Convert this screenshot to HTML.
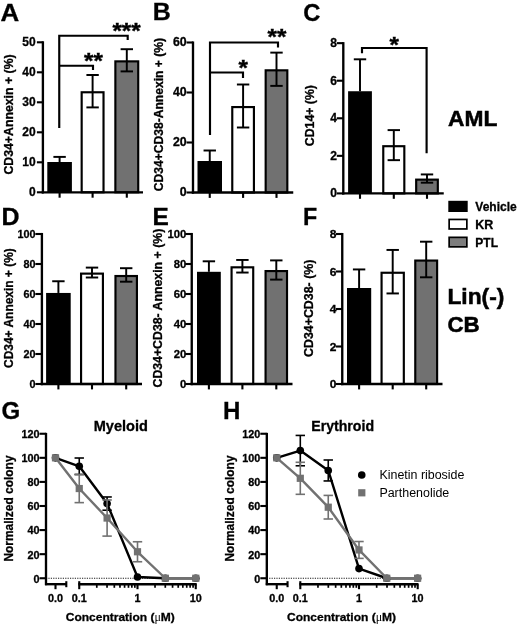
<!DOCTYPE html>
<html><head><meta charset="utf-8"><title>Figure</title>
<style>
html,body{margin:0;padding:0;background:#fff;}
svg{display:block;}
svg text{font-family:'Liberation Sans', sans-serif;fill:#000;}
</style></head>
<body>
<svg width="520" height="625" viewBox="0 0 520 625">
<rect width="520" height="625" fill="#fff"/>
<line x1="59.60" y1="156.90" x2="59.60" y2="162.00" stroke="#000" stroke-width="1.95"/>
<line x1="53.40" y1="156.90" x2="65.80" y2="156.90" stroke="#000" stroke-width="1.95"/>
<rect x="47.30" y="162.00" width="24.60" height="30.30" fill="#000"/>
<line x1="59.60" y1="192.30" x2="59.60" y2="197.70" stroke="#000" stroke-width="2.1"/>
<rect x="81.67" y="92.27" width="21.85" height="100.03" fill="#fff" stroke="#000" stroke-width="2.15"/>
<line x1="92.60" y1="75.00" x2="92.60" y2="107.40" stroke="#000" stroke-width="1.95"/>
<line x1="86.40" y1="75.00" x2="98.80" y2="75.00" stroke="#000" stroke-width="1.95"/>
<line x1="86.40" y1="107.40" x2="98.80" y2="107.40" stroke="#000" stroke-width="1.95"/>
<line x1="92.60" y1="192.30" x2="92.60" y2="197.70" stroke="#000" stroke-width="2.1"/>
<rect x="115.37" y="61.37" width="22.85" height="130.93" fill="#717171" stroke="#000" stroke-width="2.15"/>
<line x1="126.80" y1="49.20" x2="126.80" y2="71.40" stroke="#000" stroke-width="1.95"/>
<line x1="120.60" y1="49.20" x2="133.00" y2="49.20" stroke="#000" stroke-width="1.95"/>
<line x1="120.60" y1="71.40" x2="133.00" y2="71.40" stroke="#000" stroke-width="1.95"/>
<line x1="126.80" y1="192.30" x2="126.80" y2="197.70" stroke="#000" stroke-width="2.1"/>
<line x1="42.90" y1="41.25" x2="42.90" y2="193.48" stroke="#000" stroke-width="2.35"/>
<line x1="41.73" y1="192.30" x2="143.00" y2="192.30" stroke="#000" stroke-width="2.35"/>
<line x1="36.90" y1="192.30" x2="42.90" y2="192.30" stroke="#000" stroke-width="2.1"/>
<text transform="translate(35.60,196.05) scale(0.97,1)" font-size="12.4" font-weight="bold" text-anchor="end"  stroke="#000" stroke-width="0.3">0</text>
<line x1="36.90" y1="162.30" x2="42.90" y2="162.30" stroke="#000" stroke-width="2.1"/>
<text transform="translate(35.60,166.05) scale(0.97,1)" font-size="12.4" font-weight="bold" text-anchor="end"  stroke="#000" stroke-width="0.3">10</text>
<line x1="36.90" y1="132.30" x2="42.90" y2="132.30" stroke="#000" stroke-width="2.1"/>
<text transform="translate(35.60,136.05) scale(0.97,1)" font-size="12.4" font-weight="bold" text-anchor="end"  stroke="#000" stroke-width="0.3">20</text>
<line x1="36.90" y1="102.30" x2="42.90" y2="102.30" stroke="#000" stroke-width="2.1"/>
<text transform="translate(35.60,106.05) scale(0.97,1)" font-size="12.4" font-weight="bold" text-anchor="end"  stroke="#000" stroke-width="0.3">30</text>
<line x1="36.90" y1="72.30" x2="42.90" y2="72.30" stroke="#000" stroke-width="2.1"/>
<text transform="translate(35.60,76.05) scale(0.97,1)" font-size="12.4" font-weight="bold" text-anchor="end"  stroke="#000" stroke-width="0.3">40</text>
<line x1="36.90" y1="42.30" x2="42.90" y2="42.30" stroke="#000" stroke-width="2.1"/>
<text transform="translate(35.60,46.05) scale(0.97,1)" font-size="12.4" font-weight="bold" text-anchor="end"  stroke="#000" stroke-width="0.3">50</text>
<text transform="translate(13.20,174.60) rotate(-90) scale(1.0,1)" font-size="12.3" font-weight="bold" text-anchor="start"  stroke="#000" stroke-width="0.3">CD34+Annexin + (%)</text>
<text transform="translate(0.60,21.00) scale(1.08,1)" font-size="24" font-weight="bold" text-anchor="start"  stroke="#000" stroke-width="0.3">A</text>
<polyline fill="none" stroke="#000" stroke-width="2.15" points="59.25,128.00 59.25,35.75 127.70,35.75 127.70,40.00"/>
<polyline fill="none" stroke="#000" stroke-width="2.15" points="59.25,65.75 59.25,65.75 93.00,65.75 93.00,70.00"/>
<text transform="translate(126.50,38.00) scale(1.1,1)" font-size="22" font-weight="bold" text-anchor="middle"  stroke="#000" stroke-width="0.4">***</text>
<text transform="translate(93.50,68.00) scale(1.1,1)" font-size="22" font-weight="bold" text-anchor="middle"  stroke="#000" stroke-width="0.4">**</text>
<line x1="209.75" y1="150.50" x2="209.75" y2="161.00" stroke="#000" stroke-width="1.95"/>
<line x1="203.55" y1="150.50" x2="215.95" y2="150.50" stroke="#000" stroke-width="1.95"/>
<rect x="197.50" y="161.00" width="24.50" height="31.50" fill="#000"/>
<line x1="209.75" y1="192.50" x2="209.75" y2="197.90" stroke="#000" stroke-width="2.1"/>
<rect x="232.27" y="107.07" width="21.65" height="85.43" fill="#fff" stroke="#000" stroke-width="2.15"/>
<line x1="243.10" y1="84.50" x2="243.10" y2="127.50" stroke="#000" stroke-width="1.95"/>
<line x1="236.90" y1="84.50" x2="249.30" y2="84.50" stroke="#000" stroke-width="1.95"/>
<line x1="236.90" y1="127.50" x2="249.30" y2="127.50" stroke="#000" stroke-width="1.95"/>
<line x1="243.10" y1="192.50" x2="243.10" y2="197.90" stroke="#000" stroke-width="2.1"/>
<rect x="265.67" y="70.32" width="21.65" height="122.18" fill="#717171" stroke="#000" stroke-width="2.15"/>
<line x1="276.50" y1="52.62" x2="276.50" y2="85.88" stroke="#000" stroke-width="1.95"/>
<line x1="270.30" y1="52.62" x2="282.70" y2="52.62" stroke="#000" stroke-width="1.95"/>
<line x1="270.30" y1="85.88" x2="282.70" y2="85.88" stroke="#000" stroke-width="1.95"/>
<line x1="276.50" y1="192.50" x2="276.50" y2="197.90" stroke="#000" stroke-width="2.1"/>
<line x1="193.00" y1="41.45" x2="193.00" y2="193.68" stroke="#000" stroke-width="2.35"/>
<line x1="191.82" y1="192.50" x2="293.25" y2="192.50" stroke="#000" stroke-width="2.35"/>
<line x1="186.50" y1="192.50" x2="193.00" y2="192.50" stroke="#000" stroke-width="2.1"/>
<text transform="translate(186.70,196.10) scale(1.01,1)" font-size="12.2" font-weight="bold" text-anchor="end"  stroke="#000" stroke-width="0.3">0</text>
<line x1="186.50" y1="142.50" x2="193.00" y2="142.50" stroke="#000" stroke-width="2.1"/>
<text transform="translate(186.70,146.10) scale(1.01,1)" font-size="12.2" font-weight="bold" text-anchor="end"  stroke="#000" stroke-width="0.3">20</text>
<line x1="186.50" y1="92.50" x2="193.00" y2="92.50" stroke="#000" stroke-width="2.1"/>
<text transform="translate(186.70,96.10) scale(1.01,1)" font-size="12.2" font-weight="bold" text-anchor="end"  stroke="#000" stroke-width="0.3">40</text>
<line x1="186.50" y1="42.50" x2="193.00" y2="42.50" stroke="#000" stroke-width="2.1"/>
<text transform="translate(186.70,46.10) scale(1.01,1)" font-size="12.2" font-weight="bold" text-anchor="end"  stroke="#000" stroke-width="0.3">60</text>
<text transform="translate(163.40,191.25) rotate(-90) scale(1.0,1)" font-size="12.1" font-weight="bold" text-anchor="start"  stroke="#000" stroke-width="0.3">CD34+CD38-Annexin + (%)</text>
<text transform="translate(152.80,20.30) scale(1.04,1)" font-size="24" font-weight="bold" text-anchor="start"  stroke="#000" stroke-width="0.3">B</text>
<polyline fill="none" stroke="#000" stroke-width="2.15" points="210.00,135.00 210.00,42.50 278.00,42.50 278.00,47.50"/>
<polyline fill="none" stroke="#000" stroke-width="2.15" points="210.00,72.50 210.00,72.50 243.00,72.50 243.00,78.00"/>
<text transform="translate(277.00,44.00) scale(1.1,1)" font-size="22" font-weight="bold" text-anchor="middle"  stroke="#000" stroke-width="0.4">**</text>
<text transform="translate(243.20,74.80) scale(1.1,1)" font-size="22" font-weight="bold" text-anchor="middle"  stroke="#000" stroke-width="0.4">*</text>
<line x1="360.00" y1="59.31" x2="360.00" y2="91.24" stroke="#000" stroke-width="1.95"/>
<line x1="353.80" y1="59.31" x2="366.20" y2="59.31" stroke="#000" stroke-width="1.95"/>
<rect x="348.10" y="91.24" width="23.80" height="102.16" fill="#000"/>
<line x1="360.00" y1="193.40" x2="360.00" y2="198.80" stroke="#000" stroke-width="2.1"/>
<rect x="383.27" y="146.21" width="21.05" height="47.19" fill="#fff" stroke="#000" stroke-width="2.15"/>
<line x1="393.80" y1="130.11" x2="393.80" y2="160.16" stroke="#000" stroke-width="1.95"/>
<line x1="387.60" y1="130.11" x2="400.00" y2="130.11" stroke="#000" stroke-width="1.95"/>
<line x1="387.60" y1="160.16" x2="400.00" y2="160.16" stroke="#000" stroke-width="1.95"/>
<line x1="393.80" y1="193.40" x2="393.80" y2="198.80" stroke="#000" stroke-width="2.1"/>
<rect x="416.17" y="179.63" width="21.65" height="13.77" fill="#717171" stroke="#000" stroke-width="2.15"/>
<line x1="427.00" y1="174.43" x2="427.00" y2="182.70" stroke="#000" stroke-width="1.95"/>
<line x1="420.80" y1="174.43" x2="433.20" y2="174.43" stroke="#000" stroke-width="1.95"/>
<line x1="420.80" y1="182.70" x2="433.20" y2="182.70" stroke="#000" stroke-width="1.95"/>
<line x1="427.00" y1="193.40" x2="427.00" y2="198.80" stroke="#000" stroke-width="2.1"/>
<line x1="343.30" y1="42.11" x2="343.30" y2="194.58" stroke="#000" stroke-width="2.35"/>
<line x1="342.12" y1="193.40" x2="443.75" y2="193.40" stroke="#000" stroke-width="2.35"/>
<line x1="336.80" y1="193.40" x2="343.30" y2="193.40" stroke="#000" stroke-width="2.1"/>
<text transform="translate(336.90,197.40) scale(0.98,1)" font-size="12.3" font-weight="bold" text-anchor="end"  stroke="#000" stroke-width="0.3">0</text>
<line x1="336.80" y1="155.84" x2="343.30" y2="155.84" stroke="#000" stroke-width="2.1"/>
<text transform="translate(336.90,159.84) scale(0.98,1)" font-size="12.3" font-weight="bold" text-anchor="end"  stroke="#000" stroke-width="0.3">2</text>
<line x1="336.80" y1="118.28" x2="343.30" y2="118.28" stroke="#000" stroke-width="2.1"/>
<text transform="translate(336.90,122.28) scale(0.98,1)" font-size="12.3" font-weight="bold" text-anchor="end"  stroke="#000" stroke-width="0.3">4</text>
<line x1="336.80" y1="80.72" x2="343.30" y2="80.72" stroke="#000" stroke-width="2.1"/>
<text transform="translate(336.90,84.72) scale(0.98,1)" font-size="12.3" font-weight="bold" text-anchor="end"  stroke="#000" stroke-width="0.3">6</text>
<line x1="336.80" y1="43.16" x2="343.30" y2="43.16" stroke="#000" stroke-width="2.1"/>
<text transform="translate(336.90,47.16) scale(0.98,1)" font-size="12.3" font-weight="bold" text-anchor="end"  stroke="#000" stroke-width="0.3">8</text>
<text transform="translate(313.60,146.20) rotate(-90) scale(1.0,1)" font-size="12.3" font-weight="bold" text-anchor="start"  stroke="#000" stroke-width="0.3">CD14+ (%)</text>
<text transform="translate(303.20,20.60) scale(0.99,1)" font-size="24" font-weight="bold" text-anchor="start"  stroke="#000" stroke-width="0.3">C</text>
<polyline fill="none" stroke="#000" stroke-width="2.15" points="362.00,53.25 362.00,48.00 426.60,48.00 426.60,153.20"/>
<text transform="translate(394.10,51.80) scale(1.1,1)" font-size="22" font-weight="bold" text-anchor="middle"  stroke="#000" stroke-width="0.4">*</text>
<text transform="translate(448.00,125.70) scale(1.06,1)" font-size="21.5" font-weight="bold" text-anchor="start"  stroke="#000" stroke-width="0.5">AML</text>
<rect x="448.3" y="200.8" width="19.4" height="11.2" fill="#000"/>
<rect x="449.15" y="219.45" width="17.7" height="9.5" fill="#fff" stroke="#000" stroke-width="1.7"/>
<rect x="449.15" y="237.35" width="17.7" height="9.5" fill="#7d7d7d" stroke="#000" stroke-width="1.7"/>
<text transform="translate(475.30,210.90) scale(1.0,1)" font-size="12" font-weight="bold" text-anchor="start"  stroke="#000" stroke-width="0.3">Vehicle</text>
<text transform="translate(475.30,229.00) scale(1.04,1)" font-size="12" font-weight="bold" text-anchor="start"  stroke="#000" stroke-width="0.3">KR</text>
<text transform="translate(475.30,246.80) scale(1.0,1)" font-size="12" font-weight="bold" text-anchor="start"  stroke="#000" stroke-width="0.3">PTL</text>
<line x1="58.40" y1="281.25" x2="58.40" y2="292.95" stroke="#000" stroke-width="1.95"/>
<line x1="52.20" y1="281.25" x2="64.60" y2="281.25" stroke="#000" stroke-width="1.95"/>
<rect x="46.10" y="292.95" width="24.60" height="91.05" fill="#000"/>
<line x1="58.40" y1="384.00" x2="58.40" y2="389.40" stroke="#000" stroke-width="2.1"/>
<rect x="81.07" y="273.62" width="21.85" height="110.38" fill="#fff" stroke="#000" stroke-width="2.15"/>
<line x1="92.00" y1="267.60" x2="92.00" y2="277.50" stroke="#000" stroke-width="1.95"/>
<line x1="85.80" y1="267.60" x2="98.20" y2="267.60" stroke="#000" stroke-width="1.95"/>
<line x1="85.80" y1="277.50" x2="98.20" y2="277.50" stroke="#000" stroke-width="1.95"/>
<line x1="92.00" y1="384.00" x2="92.00" y2="389.40" stroke="#000" stroke-width="2.1"/>
<rect x="115.47" y="276.02" width="21.45" height="107.98" fill="#717171" stroke="#000" stroke-width="2.15"/>
<line x1="126.20" y1="268.20" x2="126.20" y2="281.70" stroke="#000" stroke-width="1.95"/>
<line x1="120.00" y1="268.20" x2="132.40" y2="268.20" stroke="#000" stroke-width="1.95"/>
<line x1="120.00" y1="281.70" x2="132.40" y2="281.70" stroke="#000" stroke-width="1.95"/>
<line x1="126.20" y1="384.00" x2="126.20" y2="389.40" stroke="#000" stroke-width="2.1"/>
<line x1="41.90" y1="232.95" x2="41.90" y2="385.18" stroke="#000" stroke-width="2.35"/>
<line x1="40.73" y1="384.00" x2="142.00" y2="384.00" stroke="#000" stroke-width="2.35"/>
<line x1="35.40" y1="384.00" x2="41.90" y2="384.00" stroke="#000" stroke-width="2.1"/>
<text transform="translate(35.60,388.05) scale(1.0,1)" font-size="10.8" font-weight="bold" text-anchor="end"  stroke="#000" stroke-width="0.3">0</text>
<line x1="35.40" y1="354.00" x2="41.90" y2="354.00" stroke="#000" stroke-width="2.1"/>
<text transform="translate(35.60,358.05) scale(1.0,1)" font-size="10.8" font-weight="bold" text-anchor="end"  stroke="#000" stroke-width="0.3">20</text>
<line x1="35.40" y1="324.00" x2="41.90" y2="324.00" stroke="#000" stroke-width="2.1"/>
<text transform="translate(35.60,328.05) scale(1.0,1)" font-size="10.8" font-weight="bold" text-anchor="end"  stroke="#000" stroke-width="0.3">40</text>
<line x1="35.40" y1="294.00" x2="41.90" y2="294.00" stroke="#000" stroke-width="2.1"/>
<text transform="translate(35.60,298.05) scale(1.0,1)" font-size="10.8" font-weight="bold" text-anchor="end"  stroke="#000" stroke-width="0.3">60</text>
<line x1="35.40" y1="264.00" x2="41.90" y2="264.00" stroke="#000" stroke-width="2.1"/>
<text transform="translate(35.60,268.05) scale(1.0,1)" font-size="10.8" font-weight="bold" text-anchor="end"  stroke="#000" stroke-width="0.3">80</text>
<line x1="35.40" y1="234.00" x2="41.90" y2="234.00" stroke="#000" stroke-width="2.1"/>
<text transform="translate(35.60,238.05) scale(1.0,1)" font-size="10.8" font-weight="bold" text-anchor="end"  stroke="#000" stroke-width="0.3">100</text>
<text transform="translate(12.90,367.90) rotate(-90) scale(1.0,1)" font-size="11.95" font-weight="bold" text-anchor="start"  stroke="#000" stroke-width="0.3">CD34+ Annexin + (%)</text>
<text transform="translate(1.40,224.60) scale(1.04,1)" font-size="24" font-weight="bold" text-anchor="start"  stroke="#000" stroke-width="0.3">D</text>
<line x1="208.90" y1="261.30" x2="208.90" y2="271.80" stroke="#000" stroke-width="1.95"/>
<line x1="202.70" y1="261.30" x2="215.10" y2="261.30" stroke="#000" stroke-width="1.95"/>
<rect x="197.00" y="271.80" width="23.80" height="112.20" fill="#000"/>
<line x1="208.90" y1="384.00" x2="208.90" y2="389.40" stroke="#000" stroke-width="2.1"/>
<rect x="231.57" y="267.32" width="21.65" height="116.68" fill="#fff" stroke="#000" stroke-width="2.15"/>
<line x1="242.40" y1="259.95" x2="242.40" y2="272.55" stroke="#000" stroke-width="1.95"/>
<line x1="236.20" y1="259.95" x2="248.60" y2="259.95" stroke="#000" stroke-width="1.95"/>
<line x1="236.20" y1="272.55" x2="248.60" y2="272.55" stroke="#000" stroke-width="1.95"/>
<line x1="242.40" y1="384.00" x2="242.40" y2="389.40" stroke="#000" stroke-width="2.1"/>
<rect x="265.57" y="271.07" width="21.45" height="112.93" fill="#717171" stroke="#000" stroke-width="2.15"/>
<line x1="276.30" y1="260.40" x2="276.30" y2="279.60" stroke="#000" stroke-width="1.95"/>
<line x1="270.10" y1="260.40" x2="282.50" y2="260.40" stroke="#000" stroke-width="1.95"/>
<line x1="270.10" y1="279.60" x2="282.50" y2="279.60" stroke="#000" stroke-width="1.95"/>
<line x1="276.30" y1="384.00" x2="276.30" y2="389.40" stroke="#000" stroke-width="2.1"/>
<line x1="191.75" y1="232.95" x2="191.75" y2="385.18" stroke="#000" stroke-width="2.35"/>
<line x1="190.57" y1="384.00" x2="292.50" y2="384.00" stroke="#000" stroke-width="2.35"/>
<line x1="185.25" y1="384.00" x2="191.75" y2="384.00" stroke="#000" stroke-width="2.1"/>
<text transform="translate(186.30,388.05) scale(1.0,1)" font-size="11.3" font-weight="bold" text-anchor="end"  stroke="#000" stroke-width="0.3">0</text>
<line x1="185.25" y1="354.00" x2="191.75" y2="354.00" stroke="#000" stroke-width="2.1"/>
<text transform="translate(186.30,358.05) scale(1.0,1)" font-size="11.3" font-weight="bold" text-anchor="end"  stroke="#000" stroke-width="0.3">20</text>
<line x1="185.25" y1="324.00" x2="191.75" y2="324.00" stroke="#000" stroke-width="2.1"/>
<text transform="translate(186.30,328.05) scale(1.0,1)" font-size="11.3" font-weight="bold" text-anchor="end"  stroke="#000" stroke-width="0.3">40</text>
<line x1="185.25" y1="294.00" x2="191.75" y2="294.00" stroke="#000" stroke-width="2.1"/>
<text transform="translate(186.30,298.05) scale(1.0,1)" font-size="11.3" font-weight="bold" text-anchor="end"  stroke="#000" stroke-width="0.3">60</text>
<line x1="185.25" y1="264.00" x2="191.75" y2="264.00" stroke="#000" stroke-width="2.1"/>
<text transform="translate(186.30,268.05) scale(1.0,1)" font-size="11.3" font-weight="bold" text-anchor="end"  stroke="#000" stroke-width="0.3">80</text>
<line x1="185.25" y1="234.00" x2="191.75" y2="234.00" stroke="#000" stroke-width="2.1"/>
<text transform="translate(186.30,238.05) scale(1.0,1)" font-size="11.3" font-weight="bold" text-anchor="end"  stroke="#000" stroke-width="0.3">100</text>
<text transform="translate(162.20,387.50) rotate(-90) scale(1.0,1)" font-size="12.3" font-weight="bold" text-anchor="start"  stroke="#000" stroke-width="0.3">CD34+CD38- Annexin + (%)</text>
<text transform="translate(152.60,224.70) scale(1.02,1)" font-size="24" font-weight="bold" text-anchor="start"  stroke="#000" stroke-width="0.3">E</text>
<line x1="359.10" y1="269.44" x2="359.10" y2="288.00" stroke="#000" stroke-width="1.95"/>
<line x1="352.90" y1="269.44" x2="365.30" y2="269.44" stroke="#000" stroke-width="1.95"/>
<rect x="347.00" y="288.00" width="24.20" height="96.00" fill="#000"/>
<line x1="359.10" y1="384.00" x2="359.10" y2="389.40" stroke="#000" stroke-width="2.1"/>
<rect x="381.57" y="272.76" width="22.25" height="111.24" fill="#fff" stroke="#000" stroke-width="2.15"/>
<line x1="392.70" y1="249.94" x2="392.70" y2="293.44" stroke="#000" stroke-width="1.95"/>
<line x1="386.50" y1="249.94" x2="398.90" y2="249.94" stroke="#000" stroke-width="1.95"/>
<line x1="386.50" y1="293.44" x2="398.90" y2="293.44" stroke="#000" stroke-width="1.95"/>
<line x1="392.70" y1="384.00" x2="392.70" y2="389.40" stroke="#000" stroke-width="2.1"/>
<rect x="415.27" y="260.57" width="21.85" height="123.43" fill="#717171" stroke="#000" stroke-width="2.15"/>
<line x1="426.20" y1="241.69" x2="426.20" y2="277.31" stroke="#000" stroke-width="1.95"/>
<line x1="420.00" y1="241.69" x2="432.40" y2="241.69" stroke="#000" stroke-width="1.95"/>
<line x1="420.00" y1="277.31" x2="432.40" y2="277.31" stroke="#000" stroke-width="1.95"/>
<line x1="426.20" y1="384.00" x2="426.20" y2="389.40" stroke="#000" stroke-width="2.1"/>
<line x1="342.25" y1="232.95" x2="342.25" y2="385.18" stroke="#000" stroke-width="2.35"/>
<line x1="341.07" y1="384.00" x2="442.50" y2="384.00" stroke="#000" stroke-width="2.35"/>
<line x1="335.75" y1="384.00" x2="342.25" y2="384.00" stroke="#000" stroke-width="2.1"/>
<text transform="translate(336.50,388.05) scale(1.06,1)" font-size="11.3" font-weight="bold" text-anchor="end"  stroke="#000" stroke-width="0.3">0</text>
<line x1="335.75" y1="346.50" x2="342.25" y2="346.50" stroke="#000" stroke-width="2.1"/>
<text transform="translate(336.50,350.55) scale(1.06,1)" font-size="11.3" font-weight="bold" text-anchor="end"  stroke="#000" stroke-width="0.3">2</text>
<line x1="335.75" y1="309.00" x2="342.25" y2="309.00" stroke="#000" stroke-width="2.1"/>
<text transform="translate(336.50,313.05) scale(1.06,1)" font-size="11.3" font-weight="bold" text-anchor="end"  stroke="#000" stroke-width="0.3">4</text>
<line x1="335.75" y1="271.50" x2="342.25" y2="271.50" stroke="#000" stroke-width="2.1"/>
<text transform="translate(336.50,275.55) scale(1.06,1)" font-size="11.3" font-weight="bold" text-anchor="end"  stroke="#000" stroke-width="0.3">6</text>
<line x1="335.75" y1="234.00" x2="342.25" y2="234.00" stroke="#000" stroke-width="2.1"/>
<text transform="translate(336.50,238.05) scale(1.06,1)" font-size="11.3" font-weight="bold" text-anchor="end"  stroke="#000" stroke-width="0.3">8</text>
<text transform="translate(313.30,357.00) rotate(-90) scale(1.0,1)" font-size="12.4" font-weight="bold" text-anchor="start"  stroke="#000" stroke-width="0.3">CD34+CD38- (%)</text>
<text transform="translate(303.00,224.70) scale(0.97,1)" font-size="24" font-weight="bold" text-anchor="start"  stroke="#000" stroke-width="0.3">F</text>
<text transform="translate(447.40,304.10) scale(1.06,1)" font-size="21.5" font-weight="bold" text-anchor="start"  stroke="#000" stroke-width="0.5">Lin(-)</text>
<text transform="translate(447.40,331.50) scale(1.04,1)" font-size="21.5" font-weight="bold" text-anchor="start"  stroke="#000" stroke-width="0.5">CB</text>
<line x1="46.00" y1="578.25" x2="195.80" y2="578.25" stroke="#000" stroke-width="0.9" stroke-dasharray="1.2,1.2"/>
<line x1="46.00" y1="432.85" x2="46.00" y2="585.20" stroke="#000" stroke-width="2.35"/>
<line x1="39.50" y1="578.25" x2="46.00" y2="578.25" stroke="#000" stroke-width="2.1"/>
<text transform="translate(39.40,582.65) scale(1.0,1)" font-size="10.8" font-weight="bold" text-anchor="end"  stroke="#000" stroke-width="0.3">0</text>
<line x1="39.50" y1="554.17" x2="46.00" y2="554.17" stroke="#000" stroke-width="2.1"/>
<text transform="translate(39.40,558.57) scale(1.0,1)" font-size="10.8" font-weight="bold" text-anchor="end"  stroke="#000" stroke-width="0.3">20</text>
<line x1="39.50" y1="530.08" x2="46.00" y2="530.08" stroke="#000" stroke-width="2.1"/>
<text transform="translate(39.40,534.48) scale(1.0,1)" font-size="10.8" font-weight="bold" text-anchor="end"  stroke="#000" stroke-width="0.3">40</text>
<line x1="39.50" y1="506.00" x2="46.00" y2="506.00" stroke="#000" stroke-width="2.1"/>
<text transform="translate(39.40,510.40) scale(1.0,1)" font-size="10.8" font-weight="bold" text-anchor="end"  stroke="#000" stroke-width="0.3">60</text>
<line x1="39.50" y1="481.91" x2="46.00" y2="481.91" stroke="#000" stroke-width="2.1"/>
<text transform="translate(39.40,486.31) scale(1.0,1)" font-size="10.8" font-weight="bold" text-anchor="end"  stroke="#000" stroke-width="0.3">80</text>
<line x1="39.50" y1="457.83" x2="46.00" y2="457.83" stroke="#000" stroke-width="2.1"/>
<text transform="translate(39.40,462.23) scale(1.0,1)" font-size="10.8" font-weight="bold" text-anchor="end"  stroke="#000" stroke-width="0.3">100</text>
<line x1="39.50" y1="433.75" x2="46.00" y2="433.75" stroke="#000" stroke-width="2.1"/>
<text transform="translate(39.40,438.15) scale(1.0,1)" font-size="10.8" font-weight="bold" text-anchor="end"  stroke="#000" stroke-width="0.3">120</text>
<line x1="45.00" y1="584.20" x2="66.30" y2="584.20" stroke="#000" stroke-width="2.35"/>
<line x1="66.30" y1="581.20" x2="66.30" y2="587.20" stroke="#000" stroke-width="2.1"/>
<line x1="55.50" y1="584.20" x2="55.50" y2="589.20" stroke="#000" stroke-width="2.1"/>
<line x1="78.35" y1="584.20" x2="196.70" y2="584.20" stroke="#000" stroke-width="2.35"/>
<line x1="79.25" y1="581.20" x2="79.25" y2="589.20" stroke="#000" stroke-width="2.1"/>
<line x1="96.78" y1="584.20" x2="96.78" y2="587.80" stroke="#000" stroke-width="1.7"/>
<line x1="107.04" y1="584.20" x2="107.04" y2="587.80" stroke="#000" stroke-width="1.7"/>
<line x1="114.32" y1="584.20" x2="114.32" y2="587.80" stroke="#000" stroke-width="1.7"/>
<line x1="119.97" y1="584.20" x2="119.97" y2="587.80" stroke="#000" stroke-width="1.7"/>
<line x1="124.58" y1="584.20" x2="124.58" y2="587.80" stroke="#000" stroke-width="1.7"/>
<line x1="128.48" y1="584.20" x2="128.48" y2="587.80" stroke="#000" stroke-width="1.7"/>
<line x1="131.85" y1="584.20" x2="131.85" y2="587.80" stroke="#000" stroke-width="1.7"/>
<line x1="134.83" y1="584.20" x2="134.83" y2="587.80" stroke="#000" stroke-width="1.7"/>
<line x1="137.50" y1="584.20" x2="137.50" y2="589.20" stroke="#000" stroke-width="2.1"/>
<line x1="155.03" y1="584.20" x2="155.03" y2="587.80" stroke="#000" stroke-width="1.7"/>
<line x1="165.29" y1="584.20" x2="165.29" y2="587.80" stroke="#000" stroke-width="1.7"/>
<line x1="172.57" y1="584.20" x2="172.57" y2="587.80" stroke="#000" stroke-width="1.7"/>
<line x1="178.22" y1="584.20" x2="178.22" y2="587.80" stroke="#000" stroke-width="1.7"/>
<line x1="182.83" y1="584.20" x2="182.83" y2="587.80" stroke="#000" stroke-width="1.7"/>
<line x1="186.73" y1="584.20" x2="186.73" y2="587.80" stroke="#000" stroke-width="1.7"/>
<line x1="190.10" y1="584.20" x2="190.10" y2="587.80" stroke="#000" stroke-width="1.7"/>
<line x1="193.08" y1="584.20" x2="193.08" y2="587.80" stroke="#000" stroke-width="1.7"/>
<line x1="195.75" y1="584.20" x2="195.75" y2="589.20" stroke="#000" stroke-width="2.1"/>
<text transform="translate(55.50,602.00) scale(1.0,1)" font-size="10.8" font-weight="bold" text-anchor="middle"  stroke="#000" stroke-width="0.3">0.0</text>
<text transform="translate(79.25,602.00) scale(1.0,1)" font-size="10.8" font-weight="bold" text-anchor="middle"  stroke="#000" stroke-width="0.3">0.1</text>
<text transform="translate(137.50,602.00) scale(1.0,1)" font-size="10.8" font-weight="bold" text-anchor="middle"  stroke="#000" stroke-width="0.3">1</text>
<text transform="translate(195.80,602.00) scale(1.0,1)" font-size="10.8" font-weight="bold" text-anchor="middle"  stroke="#000" stroke-width="0.3">10</text>
<text transform="translate(65.75,620.8) scale(1.027,1)" font-size="11.7" font-weight="bold" stroke="#000" stroke-width="0.3">Concentration (<tspan font-weight="normal" stroke="none" font-family="'Liberation Serif', serif">μ</tspan>M)</text>
<text transform="translate(12.80,561.60) rotate(-90) scale(0.995,1)" font-size="12.0" font-weight="bold" text-anchor="start"  stroke="#000" stroke-width="0.3">Normalized colony</text>
<text transform="translate(93.75,431.00) scale(1.04,1)" font-size="14" font-weight="bold" text-anchor="start"  stroke="#000" stroke-width="0.3">Myeloid</text>
<text transform="translate(1.50,419.40) scale(1.0,1)" font-size="24" font-weight="bold" text-anchor="start"  stroke="#000" stroke-width="0.3">G</text>
<line x1="79.25" y1="458.01" x2="79.25" y2="474.51" stroke="#000" stroke-width="1.6"/>
<line x1="74.55" y1="458.01" x2="83.95" y2="458.01" stroke="#000" stroke-width="1.6"/>
<line x1="74.55" y1="474.51" x2="83.95" y2="474.51" stroke="#000" stroke-width="1.6"/>
<line x1="107.10" y1="496.97" x2="107.10" y2="510.21" stroke="#000" stroke-width="1.6"/>
<line x1="102.40" y1="496.97" x2="111.80" y2="496.97" stroke="#000" stroke-width="1.6"/>
<line x1="102.40" y1="510.21" x2="111.80" y2="510.21" stroke="#000" stroke-width="1.6"/>
<polyline fill="none" stroke="#000" stroke-width="2.4" stroke-linejoin="round" points="55.50,457.83 79.25,466.26 107.10,503.59 137.50,577.05 165.30,578.25 195.80,578.25"/>
<circle cx="55.50" cy="457.83" r="3.8" fill="#000"/>
<circle cx="79.25" cy="466.26" r="3.8" fill="#000"/>
<circle cx="107.10" cy="503.59" r="3.8" fill="#000"/>
<circle cx="137.50" cy="577.05" r="3.8" fill="#000"/>
<circle cx="165.30" cy="578.25" r="3.8" fill="#000"/>
<circle cx="195.80" cy="578.25" r="3.8" fill="#000"/>
<line x1="79.25" y1="474.45" x2="79.25" y2="502.63" stroke="#717171" stroke-width="1.6"/>
<line x1="74.55" y1="474.45" x2="83.95" y2="474.45" stroke="#717171" stroke-width="1.6"/>
<line x1="74.55" y1="502.63" x2="83.95" y2="502.63" stroke="#717171" stroke-width="1.6"/>
<line x1="107.10" y1="499.98" x2="107.10" y2="536.10" stroke="#717171" stroke-width="1.6"/>
<line x1="102.40" y1="499.98" x2="111.80" y2="499.98" stroke="#717171" stroke-width="1.6"/>
<line x1="102.40" y1="536.10" x2="111.80" y2="536.10" stroke="#717171" stroke-width="1.6"/>
<line x1="137.50" y1="541.76" x2="137.50" y2="561.75" stroke="#717171" stroke-width="1.6"/>
<line x1="132.80" y1="541.76" x2="142.20" y2="541.76" stroke="#717171" stroke-width="1.6"/>
<line x1="132.80" y1="561.75" x2="142.20" y2="561.75" stroke="#717171" stroke-width="1.6"/>
<polyline fill="none" stroke="#717171" stroke-width="2.4" stroke-linejoin="round" points="55.50,457.83 79.25,488.54 107.10,518.04 137.50,551.76 165.30,578.25 195.80,578.25"/>
<rect x="51.90" y="454.23" width="7.2" height="7.2" fill="#717171"/>
<rect x="75.65" y="484.94" width="7.2" height="7.2" fill="#717171"/>
<rect x="103.50" y="514.44" width="7.2" height="7.2" fill="#717171"/>
<rect x="133.90" y="548.16" width="7.2" height="7.2" fill="#717171"/>
<rect x="161.70" y="574.65" width="7.2" height="7.2" fill="#717171"/>
<rect x="192.20" y="574.65" width="7.2" height="7.2" fill="#717171"/>
<line x1="266.80" y1="578.25" x2="417.60" y2="578.25" stroke="#000" stroke-width="0.9" stroke-dasharray="1.2,1.2"/>
<line x1="266.80" y1="432.85" x2="266.80" y2="585.20" stroke="#000" stroke-width="2.35"/>
<line x1="260.30" y1="578.25" x2="266.80" y2="578.25" stroke="#000" stroke-width="2.1"/>
<text transform="translate(260.20,582.65) scale(1.0,1)" font-size="10.8" font-weight="bold" text-anchor="end"  stroke="#000" stroke-width="0.3">0</text>
<line x1="260.30" y1="554.17" x2="266.80" y2="554.17" stroke="#000" stroke-width="2.1"/>
<text transform="translate(260.20,558.57) scale(1.0,1)" font-size="10.8" font-weight="bold" text-anchor="end"  stroke="#000" stroke-width="0.3">20</text>
<line x1="260.30" y1="530.08" x2="266.80" y2="530.08" stroke="#000" stroke-width="2.1"/>
<text transform="translate(260.20,534.48) scale(1.0,1)" font-size="10.8" font-weight="bold" text-anchor="end"  stroke="#000" stroke-width="0.3">40</text>
<line x1="260.30" y1="506.00" x2="266.80" y2="506.00" stroke="#000" stroke-width="2.1"/>
<text transform="translate(260.20,510.40) scale(1.0,1)" font-size="10.8" font-weight="bold" text-anchor="end"  stroke="#000" stroke-width="0.3">60</text>
<line x1="260.30" y1="481.91" x2="266.80" y2="481.91" stroke="#000" stroke-width="2.1"/>
<text transform="translate(260.20,486.31) scale(1.0,1)" font-size="10.8" font-weight="bold" text-anchor="end"  stroke="#000" stroke-width="0.3">80</text>
<line x1="260.30" y1="457.83" x2="266.80" y2="457.83" stroke="#000" stroke-width="2.1"/>
<text transform="translate(260.20,462.23) scale(1.0,1)" font-size="10.8" font-weight="bold" text-anchor="end"  stroke="#000" stroke-width="0.3">100</text>
<line x1="260.30" y1="433.75" x2="266.80" y2="433.75" stroke="#000" stroke-width="2.1"/>
<text transform="translate(260.20,438.15) scale(1.0,1)" font-size="10.8" font-weight="bold" text-anchor="end"  stroke="#000" stroke-width="0.3">120</text>
<line x1="265.80" y1="584.20" x2="287.55" y2="584.20" stroke="#000" stroke-width="2.35"/>
<line x1="287.55" y1="581.20" x2="287.55" y2="587.20" stroke="#000" stroke-width="2.1"/>
<line x1="276.75" y1="584.20" x2="276.75" y2="589.20" stroke="#000" stroke-width="2.1"/>
<line x1="299.40" y1="584.20" x2="418.50" y2="584.20" stroke="#000" stroke-width="2.35"/>
<line x1="300.30" y1="581.20" x2="300.30" y2="589.20" stroke="#000" stroke-width="2.1"/>
<line x1="317.97" y1="584.20" x2="317.97" y2="587.80" stroke="#000" stroke-width="1.7"/>
<line x1="328.31" y1="584.20" x2="328.31" y2="587.80" stroke="#000" stroke-width="1.7"/>
<line x1="335.64" y1="584.20" x2="335.64" y2="587.80" stroke="#000" stroke-width="1.7"/>
<line x1="341.33" y1="584.20" x2="341.33" y2="587.80" stroke="#000" stroke-width="1.7"/>
<line x1="345.98" y1="584.20" x2="345.98" y2="587.80" stroke="#000" stroke-width="1.7"/>
<line x1="349.91" y1="584.20" x2="349.91" y2="587.80" stroke="#000" stroke-width="1.7"/>
<line x1="353.31" y1="584.20" x2="353.31" y2="587.80" stroke="#000" stroke-width="1.7"/>
<line x1="356.31" y1="584.20" x2="356.31" y2="587.80" stroke="#000" stroke-width="1.7"/>
<line x1="359.00" y1="584.20" x2="359.00" y2="589.20" stroke="#000" stroke-width="2.1"/>
<line x1="376.67" y1="584.20" x2="376.67" y2="587.80" stroke="#000" stroke-width="1.7"/>
<line x1="387.01" y1="584.20" x2="387.01" y2="587.80" stroke="#000" stroke-width="1.7"/>
<line x1="394.34" y1="584.20" x2="394.34" y2="587.80" stroke="#000" stroke-width="1.7"/>
<line x1="400.03" y1="584.20" x2="400.03" y2="587.80" stroke="#000" stroke-width="1.7"/>
<line x1="404.68" y1="584.20" x2="404.68" y2="587.80" stroke="#000" stroke-width="1.7"/>
<line x1="408.61" y1="584.20" x2="408.61" y2="587.80" stroke="#000" stroke-width="1.7"/>
<line x1="412.01" y1="584.20" x2="412.01" y2="587.80" stroke="#000" stroke-width="1.7"/>
<line x1="415.01" y1="584.20" x2="415.01" y2="587.80" stroke="#000" stroke-width="1.7"/>
<line x1="417.70" y1="584.20" x2="417.70" y2="589.20" stroke="#000" stroke-width="2.1"/>
<text transform="translate(276.75,602.00) scale(1.0,1)" font-size="10.8" font-weight="bold" text-anchor="middle"  stroke="#000" stroke-width="0.3">0.0</text>
<text transform="translate(300.30,602.00) scale(1.0,1)" font-size="10.8" font-weight="bold" text-anchor="middle"  stroke="#000" stroke-width="0.3">0.1</text>
<text transform="translate(359.00,602.00) scale(1.0,1)" font-size="10.8" font-weight="bold" text-anchor="middle"  stroke="#000" stroke-width="0.3">1</text>
<text transform="translate(417.60,602.00) scale(1.0,1)" font-size="10.8" font-weight="bold" text-anchor="middle"  stroke="#000" stroke-width="0.3">10</text>
<text transform="translate(287.00,620.8) scale(1.027,1)" font-size="11.7" font-weight="bold" stroke="#000" stroke-width="0.3">Concentration (<tspan font-weight="normal" stroke="none" font-family="'Liberation Serif', serif">μ</tspan>M)</text>
<text transform="translate(233.50,561.60) rotate(-90) scale(0.995,1)" font-size="12.0" font-weight="bold" text-anchor="start"  stroke="#000" stroke-width="0.3">Normalized colony</text>
<text transform="translate(311.25,431.00) scale(1.01,1)" font-size="14" font-weight="bold" text-anchor="start"  stroke="#000" stroke-width="0.3">Erythroid</text>
<text transform="translate(223.00,419.40) scale(1.0,1)" font-size="24" font-weight="bold" text-anchor="start"  stroke="#000" stroke-width="0.3">H</text>
<line x1="300.30" y1="435.43" x2="300.30" y2="465.78" stroke="#000" stroke-width="1.6"/>
<line x1="295.60" y1="435.43" x2="305.00" y2="435.43" stroke="#000" stroke-width="1.6"/>
<line x1="295.60" y1="465.78" x2="305.00" y2="465.78" stroke="#000" stroke-width="1.6"/>
<line x1="328.25" y1="460.00" x2="328.25" y2="480.95" stroke="#000" stroke-width="1.6"/>
<line x1="323.55" y1="460.00" x2="332.95" y2="460.00" stroke="#000" stroke-width="1.6"/>
<line x1="323.55" y1="480.95" x2="332.95" y2="480.95" stroke="#000" stroke-width="1.6"/>
<polyline fill="none" stroke="#000" stroke-width="2.4" stroke-linejoin="round" points="276.75,457.83 300.30,450.60 328.25,470.47 359.00,568.62 386.75,578.25 417.60,578.25"/>
<circle cx="276.75" cy="457.83" r="3.8" fill="#000"/>
<circle cx="300.30" cy="450.60" r="3.8" fill="#000"/>
<circle cx="328.25" cy="470.47" r="3.8" fill="#000"/>
<circle cx="359.00" cy="568.62" r="3.8" fill="#000"/>
<circle cx="386.75" cy="578.25" r="3.8" fill="#000"/>
<circle cx="417.60" cy="578.25" r="3.8" fill="#000"/>
<line x1="300.30" y1="462.29" x2="300.30" y2="494.32" stroke="#717171" stroke-width="1.6"/>
<line x1="295.60" y1="462.29" x2="305.00" y2="462.29" stroke="#717171" stroke-width="1.6"/>
<line x1="295.60" y1="494.32" x2="305.00" y2="494.32" stroke="#717171" stroke-width="1.6"/>
<line x1="328.25" y1="495.40" x2="328.25" y2="519.00" stroke="#717171" stroke-width="1.6"/>
<line x1="323.55" y1="495.40" x2="332.95" y2="495.40" stroke="#717171" stroke-width="1.6"/>
<line x1="323.55" y1="519.00" x2="332.95" y2="519.00" stroke="#717171" stroke-width="1.6"/>
<line x1="359.00" y1="541.52" x2="359.00" y2="558.38" stroke="#717171" stroke-width="1.6"/>
<line x1="354.30" y1="541.52" x2="363.70" y2="541.52" stroke="#717171" stroke-width="1.6"/>
<line x1="354.30" y1="558.38" x2="363.70" y2="558.38" stroke="#717171" stroke-width="1.6"/>
<polyline fill="none" stroke="#717171" stroke-width="2.4" stroke-linejoin="round" points="276.75,457.83 300.30,478.30 328.25,507.20 359.00,549.95 386.75,578.25 417.60,578.25"/>
<rect x="273.15" y="454.23" width="7.2" height="7.2" fill="#717171"/>
<rect x="296.70" y="474.70" width="7.2" height="7.2" fill="#717171"/>
<rect x="324.65" y="503.60" width="7.2" height="7.2" fill="#717171"/>
<rect x="355.40" y="546.35" width="7.2" height="7.2" fill="#717171"/>
<rect x="383.15" y="574.65" width="7.2" height="7.2" fill="#717171"/>
<rect x="414.00" y="574.65" width="7.2" height="7.2" fill="#717171"/>
<circle cx="361.75" cy="475" r="3.8" fill="#000"/>
<rect x="358.2" y="489.2" width="7.2" height="7.2" fill="#717171"/>
<text transform="translate(379.40,479.20) scale(1.0,1)" font-size="12.45" font-weight="normal" text-anchor="start" >Kinetin riboside</text>
<text transform="translate(379.40,497.10) scale(1.0,1)" font-size="12.45" font-weight="normal" text-anchor="start" >Parthenolide</text>
</svg>
</body></html>
